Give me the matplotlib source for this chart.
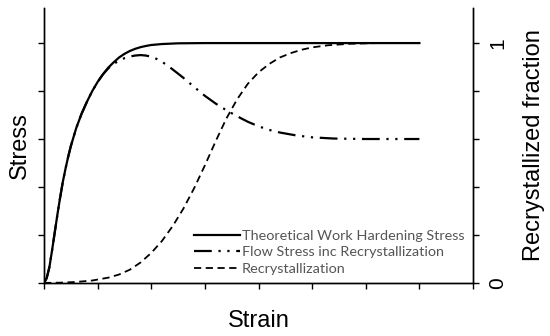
import matplotlib.pyplot as plt

# values (stress normalised to 1)
hard_strain = [0, 0.05, 0.1, 0.15, 0.2, 0.25, 0.3, 0.35, 0.4, 0.45, 0.5, 0.6, 0.7, 0.8, 0.9,
               1.0, 1.1, 1.2, 1.3, 1.4, 1.5, 1.6, 1.7, 1.8, 1.9, 2.0, 2.2, 2.5, 3.0,
               4.0, 5.0, 6.0, 7.0]
hard_stress = [0, 0.02, 0.065, 0.135, 0.21, 0.285, 0.355, 0.42, 0.475, 0.525, 0.57, 0.645,
               0.705, 0.755, 0.80, 0.838, 0.87, 0.898, 0.92, 0.94, 0.955, 0.967, 0.976,
               0.983, 0.988, 0.992, 0.996, 0.999, 1, 1, 1, 1, 1]

flow_strain = [0, 0.05, 0.1, 0.15, 0.2, 0.25, 0.3, 0.35, 0.4, 0.45, 0.5, 0.6, 0.7, 0.8, 0.9,
               1.0, 1.1, 1.2, 1.3, 1.4, 1.5, 1.6, 1.7, 1.8, 1.9, 2.0, 2.1, 2.2, 2.3, 2.4,
               2.6, 2.8, 3.0, 3.2, 3.4, 3.6, 3.8, 4.0, 4.2, 4.4, 4.7, 5.0, 5.4, 6.0, 7.0]
flow_stress = [0, 0.02, 0.065, 0.135, 0.21, 0.285, 0.355, 0.42, 0.475, 0.525, 0.57, 0.645,
               0.705, 0.755, 0.80, 0.838, 0.87, 0.895, 0.913, 0.927, 0.937, 0.944, 0.948,
               0.95, 0.948, 0.943, 0.934, 0.922, 0.907, 0.89, 0.855, 0.817, 0.78, 0.748,
               0.72, 0.695, 0.672, 0.653, 0.638, 0.627, 0.615, 0.607, 0.602, 0.60, 0.60]

rx_strain = [0, 0.3, 0.6, 0.9, 1.2, 1.4, 1.6, 1.8, 2.0, 2.2, 2.4, 2.6, 2.8, 3.0, 3.2, 3.4,
             3.6, 3.8, 4.0, 4.2, 4.4, 4.6, 4.8, 5.0, 5.3, 5.7, 6.2, 7.0]
rx_fraction = [0, 0.001, 0.004, 0.01, 0.022, 0.035, 0.055, 0.085, 0.125, 0.175, 0.237, 0.31,
               0.395, 0.49, 0.59, 0.685, 0.765, 0.83, 0.878, 0.913, 0.94, 0.958, 0.972,
               0.982, 0.991, 0.997, 1.0, 1.0]

x_ticks = [0, 1, 2, 3, 4, 5, 6, 7, 8]
y_ticks = [0, 0.2, 0.4, 0.6, 0.8, 1.0]
right_labels = ['0', '', '', '', '', '1']

fig = plt.figure(figsize=(5.5, 3.36), dpi=100)
ax = fig.add_axes([0.08, 0.158, 0.78, 0.818])
ax2 = ax.twinx()

l1, = ax.plot(hard_strain, hard_stress, color='black', lw=1.6,
              label='Theoretical Work Hardening Stress')
l2, = ax.plot(flow_strain, flow_stress, color='black', lw=1.6,
              dashes=(8, 3, 1, 3, 1, 3), label='Flow Stress inc Recrystallization')
l3, = ax2.plot(rx_strain, rx_fraction, color='black', lw=1.3,
               dashes=(4, 2.5), label='Recrystallization')

for a in (ax, ax2):
    a.set_xlim(0, 8)
    a.set_ylim(0, 1.146)
    a.spines['top'].set_visible(False)
    for s in a.spines.values():
        s.set_linewidth(1.0)

ax.set_xticks(x_ticks)
ax.set_xticklabels([])
ax.set_yticks(y_ticks)
ax.set_yticklabels([])
ax.tick_params(direction='out', length=4, width=1)
ax2.set_yticks(y_ticks)
ax2.set_yticklabels(right_labels, rotation=90, va='center', fontsize=15,
                    family='Liberation Sans')
ax2.tick_params(direction='out', length=4, width=1, pad=7)

ax.set_xlabel('Strain', fontsize=17, family='Liberation Sans', labelpad=12)
ax.set_ylabel('Stress', fontsize=17, family='Liberation Sans', labelpad=2)
ax2.set_ylabel('Recrystallized fraction', fontsize=17, family='Liberation Sans', labelpad=11)

leg = ax.legend(handles=[l1, l2, l3], loc='lower left', bbox_to_anchor=(0.35, 0.03),
                frameon=False, borderpad=0, borderaxespad=0, handlelength=3.2,
                handletextpad=0.1, labelspacing=0.3, prop={'family': 'Lato', 'size': 10.4})
for t in leg.get_texts():
    t.set_color('#555555')

fig.savefig('out.png', dpi=100)
